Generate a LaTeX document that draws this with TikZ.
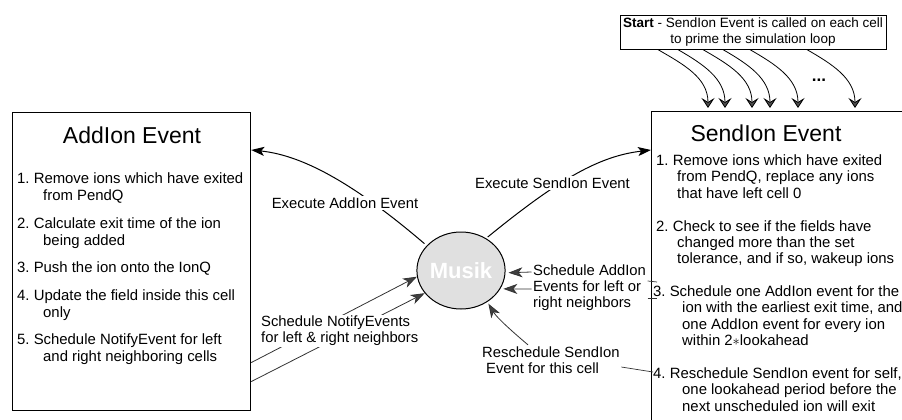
\documentclass[tikz,border=0pt]{standalone}
\usepackage{fontspec}
\setmainfont{Liberation Sans}
\usetikzlibrary{positioning,arrows.meta,shapes.geometric,calc}

\begin{document}
\frenchspacing
\begin{tikzpicture}[
    x=1pt, y=1pt,
    evbox/.style      = {rectangle, draw=black, line width=1.2pt, inner sep=0pt},
    evtitle/.style    = {font=\fontsize{23}{26}\selectfont, inner sep=0pt},
    itemlist/.style   = {align=left, inner sep=0pt, anchor=west},
    tag/.style        = {align=left, fill=white, inner sep=1.5pt, anchor=west,
                         font=\fontsize{14.8}{16}\selectfont},
    execarrow/.style  = {line width=1pt, -{Stealth[length=13pt,width=9pt,inset=3pt]}},
    schedarrow/.style = {line width=0.8pt, draw=black!80,
                         -{Stealth[length=14pt,width=10pt,inset=4pt,fill=black!75]}},
    tieline/.style    = {line width=0.7pt, draw=black!80},
    primearrow/.style = {line width=0.8pt,
                         -{Stealth[length=10pt,width=13pt,inset=4pt,color=black,fill=black!70]}},
]
\useasboundingbox (0,0) rectangle (902,-420);
\clip (0,0) rectangle (902,-420);

% event boxes
\node[evbox, minimum width=238pt, minimum height=298pt, anchor=north west] (addbox) at (12,-112) {};
\node[evtitle] (addtitle) at (132,-135) {AddIon Event};
\node[itemlist, font=\fontsize{14.9}{17}\selectfont] (additems) at (17,-269) {%
    1. Remove ions which have exited\\
    \hspace*{26pt}from PendQ\\[10.5pt]
    2. Calculate exit time of the ion\\
    \hspace*{26pt}being added\\[10.5pt]
    3. Push the ion onto the IonQ\\[10.5pt]
    4. Update the field inside this cell\\
    \hspace*{26pt}only\\[10.5pt]
    5. Schedule NotifyEvent for left\\
    \hspace*{26pt}and right neighboring cells};

\node[evbox, minimum width=300pt, minimum height=340pt, anchor=north west] (sendbox) at (651,-111) {};
\node[evtitle] (sendtitle) at (766,-133) {SendIon Event};
\node[itemlist, font=\fontsize{14.9}{16.3}\selectfont] (senditems) at (656,-283) {%
    1. Remove ions which have exited\\
    \hspace*{21pt}from PendQ, replace any ions\\
    \hspace*{21pt}that have left cell 0\\[16.7pt]
    2. Check to see if the fields have\\
    \hspace*{21pt}changed more than the set\\
    \hspace*{21pt}tolerance, and if so, wakeup ions\\[16.7pt]
    \hspace*{-3pt}3. Schedule one AddIon event for the\\
    \hspace*{26pt}ion with the earliest exit time, and\\
    \hspace*{26pt}one AddIon event for every ion\\
    \hspace*{26pt}within 2$\ast$lookahead\\[16.7pt]
    \hspace*{-3pt}4. Reschedule SendIon event for self,\\
    \hspace*{26pt}one lookahead period before the\\
    \hspace*{26pt}next unscheduled ion will exit};

% scheduler
\node[ellipse, draw, line width=1pt, fill=black!12, minimum width=86pt, minimum height=77pt,
      inner sep=0pt, text=white, font=\fontsize{22}{24}\selectfont\bfseries] (musik) at (461,-270.5) {Musik};

% start box and the priming calls
\node[rectangle, draw, line width=0.8pt, minimum width=266pt, minimum height=34pt, align=center,
      inner sep=0pt, font=\fontsize{13.5}{16}\selectfont] (startbox) at (753,-32)
      {\textbf{Start} - SendIon Event is called on each cell\\to prime the simulation loop};
\node[font=\fontsize{17}{18}\selectfont\bfseries, inner sep=0pt] (dots) at (819,-80) {...};

\foreach \a/\b in {38/57, 58/74, 83/101, 103/119, 130/147, 187/204}
    \draw[primearrow] ([xshift=\a pt]startbox.south west) to[out=-30,in=90]
                      ([xshift=\b pt, yshift=3pt]sendbox.north west);

% execute arrows (labels sit on top)
\draw[execarrow, shorten <=3pt] (musik.144) .. controls (350,-180) and (300,-155) .. ([yshift=-38pt]addbox.north east);
\draw[execarrow, shorten <=2pt] (musik.52) .. controls (560,-178) and (600,-156) .. ([yshift=-39pt]sendbox.north west);

% notify events from the AddIon box
\draw[schedarrow] ([yshift=-101pt]addbox.east) -- (musik.188);
\draw[schedarrow] ([yshift=-120pt]addbox.east) -- (musik.212);

\node[tag, anchor=center] (addexec)  at (345,-203)   {Execute AddIon Event};
\node[tag, anchor=center] (sendexec) at (552.5,-183) {Execute SendIon Event};
\node[tag] (notifytag) at (259.5,-331) {Schedule NotifyEvents\\for left \& right neighbors};

% calls coming back from the SendIon box
\node[tag] (addtag) at (531.5,-288) {Schedule AddIon\\Events for left or\\right neighbors};
\node[tag] (restag) at (480.5,-360) {Reschedule SendIon\\\hspace*{4pt}Event for this cell};

\draw[schedarrow, shorten >=3pt] (addtag.west |- 0,-272) -- (musik.-3);
\draw[schedarrow, shorten >=3pt] (addtag.west |- 0,-289) -- (musik.-25);
\draw[schedarrow, shorten >=2pt] (restag.north -| 528,0) .. controls (514,-333) and (497,-318) .. (musik.-50);

\coordinate (itemA) at (657,-282);
\coordinate (itemB) at (657,-298);
\coordinate (itemC) at (653,-372);
\draw[tieline] (addtag.east |- 0,-281) -- (itemA);
\draw[tieline] (addtag.east |- 0,-298) -- (itemB);
\draw[tieline] (restag.east |- 0,-367) -- (itemC);
\end{tikzpicture}
\end{document}
